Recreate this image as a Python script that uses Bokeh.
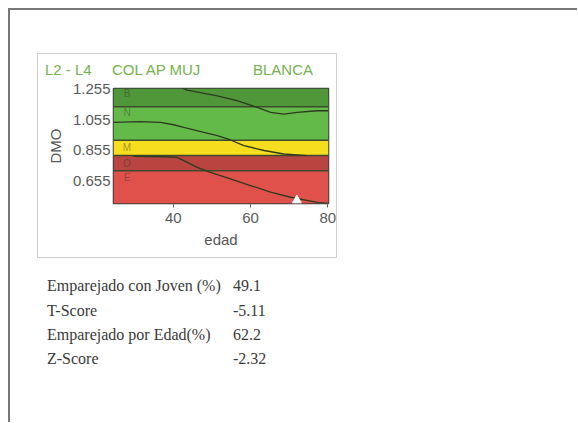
from bokeh.plotting import figure
from bokeh.models import BoxAnnotation, Span, FixedTicker, PrintfTickFormatter, Div
from bokeh.layouts import column
from bokeh.core.properties import value
from bokeh.embed import file_html
from bokeh.resources import INLINE

# ---------------- data ----------------
title_parts = ["L2 - L4", "COL AP MUJ", "BLANCA"]

band_top = [1.26, 1.14, 0.92, 0.82, 0.72]
band_bottom = [1.14, 0.92, 0.82, 0.72, 0.505]
band_colors = ["#4f9739", "#64ba48", "#f6de1e", "#b84540", "#e0514b"]
band_labels = ["B", "N", "M", "O", "E"]
band_label_age = [28, 28, 28, 28, 28]
band_label_dmo = [1.225, 1.10, 0.87, 0.765, 0.675]

upper_age = [42.0, 43.6, 51.4, 56.5, 61.7, 65.2, 68.6, 72.1, 77.3, 80.2]
upper_dmo = [1.265, 1.250, 1.212, 1.180, 1.136, 1.103, 1.092, 1.103, 1.114, 1.114]

mid_age = [24.5, 31.4, 36.6, 40.1, 42.7, 47.9, 51.4, 54.8, 58.3, 63.5, 68.6, 74.7]
mid_dmo = [1.037, 1.042, 1.037, 1.022, 1.005, 0.972, 0.950, 0.922, 0.885, 0.853, 0.830, 0.819]

low_age = [29.6, 37.5, 41.0, 43.6, 46.2, 49.6, 54.8, 60.0, 65.2, 70.4, 77.3, 80.2]
low_dmo = [0.814, 0.812, 0.808, 0.775, 0.742, 0.709, 0.667, 0.623, 0.579, 0.546, 0.513, 0.505]

patient_age = [72.0]
patient_dmo = [0.525]

x_ticks = [40, 60, 80]
y_ticks = [0.655, 0.855, 1.055, 1.255]

table_labels = ["Emparejado con Joven (%)", "T-Score", "Emparejado por Edad(%)", "Z-Score"]
table_values = ["49.1", "-5.11", "62.2", "-2.32"]

# ---------------- chart ----------------
SANS = "Liberation Sans"
p = figure(width=298, height=181, x_range=(24.5, 80.2), y_range=(0.505, 1.26),
           output_backend="svg", toolbar_location=None,
           min_border_left=75, min_border_right=8, min_border_top=12, min_border_bottom=54)
p.grid.visible = False
p.background_fill_color = "white"
p.border_fill_color = "white"
p.outline_line_color = "#3d3d3d"
p.outline_line_width = 1.5

for b, t, c in zip(band_bottom, band_top, band_colors):
    p.add_layout(BoxAnnotation(bottom=b, top=t, fill_color=c, fill_alpha=1.0,
                               line_color=None, level="underlay"))
for b in band_bottom[:-1]:
    p.add_layout(Span(location=b, dimension="width", line_color="#3e4a2c",
                      line_width=1.5, level="underlay"))

p.text(x=band_label_age, y=band_label_dmo, text=band_labels, text_font=value(SANS),
       text_font_size="10px", text_color="#333333", text_alpha=0.45,
       text_align="center", text_baseline="middle")

for ages, vals in [(upper_age, upper_dmo), (mid_age, mid_dmo), (low_age, low_dmo)]:
    p.line(ages, vals, line_color="#2f3a22", line_width=1.3)

p.scatter(patient_age, patient_dmo, marker="triangle", size=9,
          fill_color="white", line_color="white")

p.xaxis.ticker = FixedTicker(ticks=x_ticks)
p.yaxis.ticker = FixedTicker(ticks=y_ticks)
p.yaxis.formatter = PrintfTickFormatter(format="%.3f")
p.xaxis.axis_label = "edad"
p.yaxis.axis_label = "DMO"
for ax in (p.xaxis[0], p.yaxis[0]):
    ax.axis_line_color = None
    ax.minor_tick_line_color = None
    ax.major_tick_line_color = "#666666"
    ax.major_tick_in = 0
    ax.major_label_text_font = SANS
    ax.major_label_text_font_size = "15px"
    ax.major_label_text_color = "#5a5a5a"
    ax.axis_label_text_font = SANS
    ax.axis_label_text_font_size = "15px"
    ax.axis_label_text_font_style = "normal"
    ax.axis_label_text_color = "#555555"
p.xaxis.major_tick_out = 4
p.xaxis.major_label_standoff = 5
p.xaxis.axis_label_standoff = 5
p.yaxis.major_tick_out = 0
p.yaxis.major_label_standoff = 3
p.yaxis.axis_label_standoff = 6

# ---------------- title row ----------------
title_left = [7, 74, 215]
spans = "".join(
    f'<span style="position:absolute;left:{l}px;top:9px;white-space:pre;">{t}</span>'
    for l, t in zip(title_left, title_parts))
title_div = Div(text=f'<div style="position:relative;width:298px;height:22px;'
                     f'font-family:\'Liberation Sans\',Arial,sans-serif;font-size:15px;'
                     f'line-height:13px;color:#74b24e;">{spans}</div>',
                width=298, height=22, margin=(0, 0, 0, 0))

chartbox = column(title_div, p, width=300, height=205, margin=(43, 0, 0, 27),
                  styles={"border": "1px solid #cfcfcf", "background-color": "white"})

# ---------------- table ----------------
row_tops = [19, 44, 68, 92]
cells = ""
for top, lab, val in zip(row_tops, table_labels, table_values):
    cells += f'<span style="position:absolute;left:37px;top:{top}px;white-space:pre;">{lab}</span>'
    cells += f'<span style="position:absolute;left:223px;top:{top}px;white-space:pre;">{val}</span>'
table_div = Div(text=f'<div style="position:relative;width:320px;height:120px;'
                     f'font-family:\'Liberation Serif\',\'Times New Roman\',serif;font-size:16px;'
                     f'line-height:18px;color:#3a3a3a;">{cells}</div>',
                width=320, height=120, margin=(0, 0, 0, 0))

page = column(chartbox, table_div, width=569, height=414, margin=(8, 0, 0, 8),
              styles={"border-top": "2px solid #777777", "border-left": "2px solid #777777",
                      "background-color": "white"})

open("out.html", "w").write(file_html(page, INLINE))
